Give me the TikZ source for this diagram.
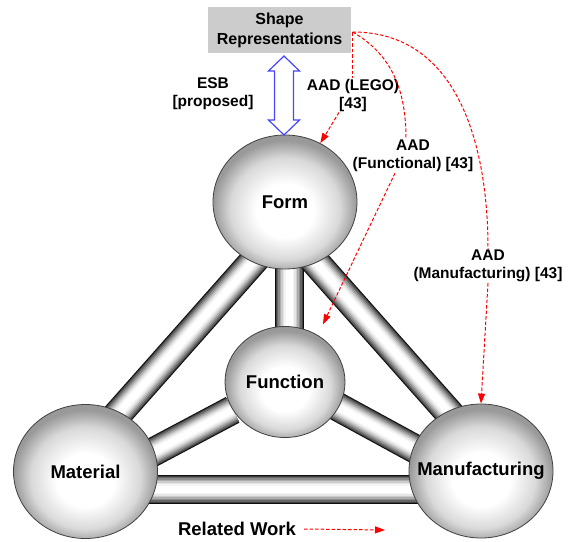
\documentclass[tikz,border=0pt]{standalone}
\usepackage{fontspec}
\setmainfont{Liberation Sans}
\usetikzlibrary{shapes.geometric,arrows.meta,calc}
\pgfdeclarelayer{bg}
\pgfsetlayers{bg,main}
\pgfdeclareradialshading{sphereshade}{\pgfpoint{0bp}{-4bp}}{color(0bp)=(white);color(10bp)=(white);color(19bp)=(black!15);color(25bp)=(black!40);color(50bp)=(black!40)}
\definecolor{esbblue}{RGB}{70,70,255}
\newcommand\myrod[2]{%
  \foreach \rw/\rc in {29/95,27/75,25/60,22/45,19/32,16/20,13/10,10/4,7/0}{%
    \draw[line width=\rw pt, black!\rc] (#1) -- (#2);}}
\newcommand\spheretext[1]{\makebox[0pt]{#1}}
\tikzset{
  sphere/.style={ellipse, draw=black!75, line width=0.8pt, shade, shading=sphereshade, inner sep=0pt,
    font=\bfseries\fontsize{18.5}{20}\selectfont},
  bigsphere/.style={sphere, minimum width=144pt, minimum height=134pt},
  smallsphere/.style={sphere, minimum width=120pt, minimum height=111pt},
  rd/.style={draw=red, dash pattern=on 3.5pt off 2pt, line width=1pt},
  rdarrow/.style={rd, -{Triangle[length=10pt,width=7pt,fill=red]}},
  lbl/.style={font=\bfseries\fontsize{15.5}{18}\selectfont, align=center, inner sep=1pt},
  esb/.style={draw=esbblue, fill=white, line width=1.2pt, line join=miter},
  srbox/.style={fill=black!20, minimum width=143pt, minimum height=46pt, inner sep=0pt,
    font=\bfseries\fontsize{16}{20}\selectfont, align=center}
}
\begin{document}
\begin{tikzpicture}[x=1pt,y=1pt]
\useasboundingbox (0,0) rectangle (575,-541);
% box
\node[srbox] (sr) at (279.5,-30) {Shape\\Representations};
\coordinate (srout) at ([xshift=1.5pt,yshift=-2pt]sr.east);
% spheres
\node[bigsphere] (form) at (285,-202) {\spheretext{Form}};
\node[smallsphere] (func) at (285,-382) {\spheretext{Function}};
\node[bigsphere] (mat) at (85.5,-471.5) {\spheretext{Material}};
\node[bigsphere] (mfg) at (481,-471) {\spheretext{Manufacturing}};
% rods
\begin{pgfonlayer}{bg}
\myrod{$(form)+(4,0)$}{$(func)+(4,0)$}
\myrod{$(form)+(-4,-28)$}{$(mat)+(0.5,21.5)$}
\myrod{$(form)+(2,-28)$}{$(mfg)+(1,21)$}
\myrod{func}{$(mat)+(0,-16.5)$}
\myrod{$(func)+(0,4)$}{$(mfg)+(2,-15)$}
\myrod{$(mat)+(0,-17.5)$}{$(mfg)+(0,-18)$}
\end{pgfonlayer}
% ESB arrow
\draw[esb] (284,-56) -- (299.5,-71) -- (293.5,-71) -- (293.5,-120) -- (299.5,-120) -- (284,-135)
  -- (268.5,-120) -- (274.5,-120) -- (274.5,-71) -- (268.5,-71) -- cycle;
\node[lbl] (esbl) at (213,-94) {ESB\\{}[proposed]};
% labels
\node[lbl] (l1) at (353,-95) {AAD (LEGO)\\{}[43]};
\node[lbl] (l2) at (413,-156) {AAD\\(Functional) [43]};
\node[lbl] (l3) at (488,-266) {AAD\\(Manufacturing) [43]};
% red arrows
\draw[rd] (srout) -- (srout |- l1.north);
\draw[rdarrow] ([xshift=-14pt]l1.south) -- (form.59);
\draw[rd] (srout) to[out=-30,in=90] ([xshift=-7pt]l2.north);
\draw[rdarrow, shorten >=12pt] ([xshift=-18pt]l2.south) -- (func.55);
\draw[rd] (srout) to[out=0,in=90,looseness=1.05] (l3.north);
\draw[rdarrow] (l3.south) -- (mfg.north);
% legend
\node[font=\bfseries\fontsize{18.5}{20}\selectfont, inner sep=0pt] (rw) at (237,-529) {Related Work};
\coordinate (rwend) at (385,-530);
\draw[rdarrow] ([xshift=8pt]rw.east) -- (rwend);
\end{tikzpicture}
\end{document}
